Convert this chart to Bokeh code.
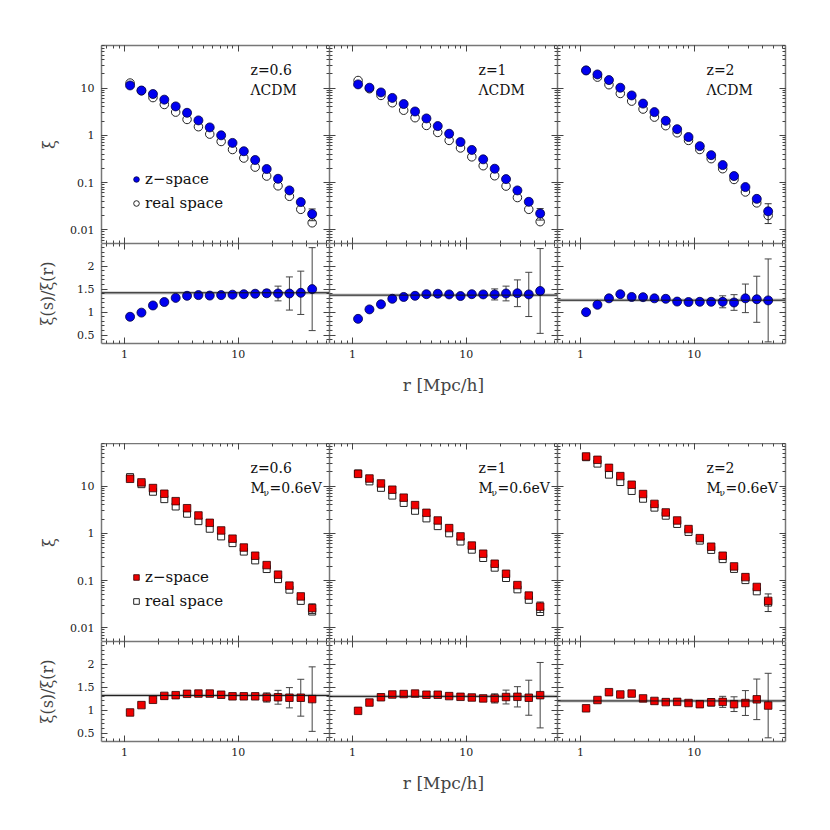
from bokeh.plotting import figure
from bokeh.layouts import column, row
from bokeh.models import (LogAxis, LinearAxis, LogTicker, SingleIntervalTicker,
                          CustomJSTickFormatter, Range1d, LogScale, LinearScale,
                          ColumnDataSource, Whisker, TeeHead, Span, BoxAnnotation,
                          Legend, LegendItem, Label)
from bokeh.embed import file_html
from bokeh.resources import INLINE

FONT = "DejaVu Serif"

# separation bins r [Mpc/h]
r = [1.12, 1.41, 1.78, 2.24, 2.82, 3.55, 4.47, 5.62, 7.08, 8.91,
     11.2, 14.1, 17.8, 22.4, 28.2, 35.5, 44.7]

redshift_labels = ["z=0.6", "z=1", "z=2"]

# ---------------- LCDM ----------------
lcdm_z06_s = [11.4, 8.9, 7.5, 5.7, 4.1, 3.0, 2.07, 1.47, 1.0, 0.69, 0.46, 0.30, 0.193, 0.120, 0.068, 0.0385, 0.0215]
lcdm_z06_r = [12.8, 8.8, 6.3, 4.5, 3.1, 2.17, 1.52, 1.06, 0.74, 0.50, 0.33, 0.212, 0.137, 0.085, 0.051, 0.027, 0.014]
lcdm_z06_s_err = [0, 0, 0, 0, 0, 0, 0, 0, 0, 0, 0, 0, 0, 0, 0.003, 0.004, 0.006]
lcdm_z06_ratio = [0.90, 0.99, 1.145, 1.22, 1.31, 1.355, 1.37, 1.36, 1.37, 1.38, 1.39, 1.40, 1.41, 1.405, 1.405, 1.42, 1.50]
lcdm_z06_ratio_err = [0.01, 0.01, 0.01, 0.01, 0.01, 0.01, 0.01, 0.01, 0.01, 0.02, 0.02, 0.03, 0.07, 0.16, 0.36, 0.47, 0.90]
lcdm_z06_fit = 1.42

lcdm_z1_s = [12.0, 10.2, 8.1, 6.2, 4.6, 3.2, 2.28, 1.57, 1.08, 0.72, 0.49, 0.31, 0.196, 0.118, 0.068, 0.039, 0.022]
lcdm_z1_r = [14.5, 9.7, 7.0, 4.9, 3.4, 2.36, 1.62, 1.15, 0.78, 0.54, 0.35, 0.227, 0.139, 0.084, 0.048, 0.027, 0.0148]
lcdm_z1_s_err = [0, 0, 0, 0, 0, 0, 0, 0, 0, 0, 0, 0, 0, 0, 0.003, 0.004, 0.006]
lcdm_z1_ratio = [0.855, 1.06, 1.17, 1.29, 1.33, 1.355, 1.39, 1.40, 1.385, 1.35, 1.39, 1.385, 1.385, 1.405, 1.41, 1.385, 1.46]
lcdm_z1_ratio_err = [0.01, 0.01, 0.01, 0.01, 0.01, 0.01, 0.01, 0.01, 0.01, 0.02, 0.02, 0.04, 0.12, 0.16, 0.29, 0.48, 0.92]
lcdm_z1_fit = 1.37

lcdm_z2_s = [23.7, 19.5, 14.8, 10.2, 7.0, 4.7, 3.1, 2.03, 1.35, 0.92, 0.59, 0.38, 0.234, 0.137, 0.080, 0.045, 0.0245]
lcdm_z2_r = [23.7, 17.1, 11.8, 7.7, 5.3, 3.6, 2.43, 1.60, 1.13, 0.78, 0.50, 0.32, 0.196, 0.116, 0.063, 0.037, 0.020]
lcdm_z2_s_err = [0, 0, 0, 0, 0, 0, 0, 0, 0, 0, 0, 0, 0, 0, 0.004, 0.006, 0.011]
lcdm_z2_ratio = [1.0, 1.16, 1.30, 1.39, 1.33, 1.325, 1.30, 1.29, 1.23, 1.22, 1.225, 1.225, 1.225, 1.21, 1.30, 1.28, 1.255]
lcdm_z2_ratio_err = [0.01, 0.01, 0.01, 0.01, 0.01, 0.01, 0.01, 0.01, 0.01, 0.02, 0.02, 0.04, 0.13, 0.17, 0.31, 0.50, 0.90]
lcdm_z2_fit = 1.26

# ---------------- M_nu = 0.6 eV ----------------
mnu_z06_s = [14.3, 12.0, 9.1, 6.9, 4.8, 3.4, 2.39, 1.67, 1.15, 0.77, 0.50, 0.335, 0.212, 0.133, 0.078, 0.046, 0.026]
mnu_z06_r = [15.5, 11.0, 7.6, 5.3, 3.7, 2.6, 1.81, 1.25, 0.86, 0.62, 0.41, 0.267, 0.175, 0.107, 0.064, 0.037, 0.022]
mnu_z06_s_err = [0, 0, 0, 0, 0, 0, 0, 0, 0, 0, 0, 0, 0, 0, 0.004, 0.004, 0.006]
mnu_z06_ratio = [0.95, 1.11, 1.225, 1.31, 1.325, 1.355, 1.36, 1.36, 1.335, 1.30, 1.30, 1.30, 1.275, 1.28, 1.27, 1.27, 1.24]
mnu_z06_ratio_err = [0.03, 0.03, 0.03, 0.03, 0.03, 0.03, 0.03, 0.03, 0.03, 0.03, 0.03, 0.05, 0.10, 0.15, 0.22, 0.40, 0.70]
mnu_z06_fit = 1.32

mnu_z1_s = [18.2, 14.5, 11.4, 8.4, 5.7, 3.96, 2.72, 1.87, 1.29, 0.86, 0.55, 0.37, 0.227, 0.139, 0.080, 0.048, 0.028]
mnu_z1_r = [18.5, 12.6, 9.2, 6.3, 4.4, 3.0, 2.07, 1.42, 1.0, 0.67, 0.45, 0.30, 0.187, 0.113, 0.065, 0.039, 0.0215]
mnu_z1_s_err = [0, 0, 0, 0, 0, 0, 0, 0, 0, 0, 0, 0, 0, 0, 0.004, 0.005, 0.007]
mnu_z1_ratio = [0.985, 1.165, 1.28, 1.34, 1.35, 1.36, 1.335, 1.335, 1.305, 1.29, 1.275, 1.255, 1.255, 1.285, 1.29, 1.27, 1.325]
mnu_z1_ratio_err = [0.03, 0.03, 0.03, 0.03, 0.03, 0.03, 0.03, 0.03, 0.03, 0.03, 0.03, 0.05, 0.10, 0.15, 0.22, 0.38, 0.71]
mnu_z1_fit = 1.30

mnu_z2_s = [42.5, 36.1, 24.4, 16.3, 10.7, 6.8, 4.2, 2.77, 1.87, 1.23, 0.79, 0.52, 0.335, 0.199, 0.118, 0.073, 0.037]
mnu_z2_r = [41.0, 30.0, 17.5, 12.2, 7.9, 5.4, 3.5, 2.36, 1.58, 1.07, 0.70, 0.445, 0.284, 0.176, 0.102, 0.059, 0.034]
mnu_z2_s_err = [0, 0, 0, 0, 0, 0, 0, 0, 0, 0, 0, 0, 0, 0, 0.006, 0.008, 0.015]
mnu_z2_ratio = [1.04, 1.22, 1.39, 1.34, 1.36, 1.255, 1.20, 1.175, 1.18, 1.155, 1.13, 1.17, 1.18, 1.13, 1.155, 1.235, 1.10]
mnu_z2_ratio_err = [0.04, 0.04, 0.04, 0.04, 0.04, 0.04, 0.04, 0.04, 0.04, 0.04, 0.04, 0.08, 0.12, 0.16, 0.27, 0.44, 0.70]
mnu_z2_fit = 1.20

fit_band = 0.035

groups = [
    dict(model="ΛCDM", marker="circle", fill="#0000f0", edge="#000040", osize=8.5, fsize=9,
         panels=[(lcdm_z06_s, lcdm_z06_r, lcdm_z06_s_err, lcdm_z06_ratio, lcdm_z06_ratio_err, lcdm_z06_fit),
                 (lcdm_z1_s, lcdm_z1_r, lcdm_z1_s_err, lcdm_z1_ratio, lcdm_z1_ratio_err, lcdm_z1_fit),
                 (lcdm_z2_s, lcdm_z2_r, lcdm_z2_s_err, lcdm_z2_ratio, lcdm_z2_ratio_err, lcdm_z2_fit)]),
    dict(model="Mnu", marker="square", fill="#f00000", edge="#300000", osize=7, fsize=7.5,
         panels=[(mnu_z06_s, mnu_z06_r, mnu_z06_s_err, mnu_z06_ratio, mnu_z06_ratio_err, mnu_z06_fit),
                 (mnu_z1_s, mnu_z1_r, mnu_z1_s_err, mnu_z1_ratio, mnu_z1_ratio_err, mnu_z1_fit),
                 (mnu_z2_s, mnu_z2_r, mnu_z2_s_err, mnu_z2_ratio, mnu_z2_ratio_err, mnu_z2_fit)]),
]

X_RANGE = (0.628, 63.5)
XI_RANGE = (0.0051, 80)
RATIO_RANGE = (0.32, 2.49)

FRAME_W = 228
XI_H = 198
RATIO_H = 100
LEFT_B = 101
RIGHT_B = 10
TOP_B = 45

AXIS_COLOR = "#777777"
TICK_COLOR = "#444444"

fmt_js = "return String(Number(tick.toPrecision(4)));"


def style_axis(ax, show_labels, standoff=7):
    ax.major_tick_in = 6
    ax.major_tick_out = 0
    ax.minor_tick_in = 3
    ax.minor_tick_out = 0
    ax.axis_line_color = AXIS_COLOR
    ax.axis_line_width = 1.5
    ax.major_tick_line_color = TICK_COLOR
    ax.minor_tick_line_color = TICK_COLOR
    ax.major_tick_line_width = 1
    ax.minor_tick_line_width = 1
    if show_labels:
        ax.formatter = CustomJSTickFormatter(code=fmt_js)
        ax.major_label_text_font = FONT
        ax.major_label_text_font_size = "11px"
        ax.major_label_text_color = "#222222"
        ax.major_label_standoff = standoff
    else:
        ax.formatter = CustomJSTickFormatter(code="return '';")
        ax.major_label_text_font_size = "0px"
        ax.major_label_standoff = 0


def make_panel(kind, col, gi):
    upper = kind == "xi"
    fh = XI_H if upper else RATIO_H
    left = LEFT_B if col == 0 else 0
    right = RIGHT_B if col == 2 else 0
    top = TOP_B if (gi == 0 and upper) else 0
    if upper:
        bottom = 0
    else:
        bottom = 100 if gi == 0 else 70
    p = figure(width=FRAME_W + left + right, height=fh + top + bottom,
               x_axis_type=None, y_axis_type=None,
               x_range=Range1d(*X_RANGE),
               y_range=Range1d(*(XI_RANGE if upper else RATIO_RANGE)),
               output_backend="svg", toolbar_location=None,
               min_border_left=left, min_border_right=right,
               min_border_top=top, min_border_bottom=bottom)
    p.x_scale = LogScale()
    p.y_scale = LogScale() if upper else LinearScale()
    p.outline_line_color = None
    p.background_fill_color = "white"
    p.border_fill_color = "white"

    # x axes (below / above)
    for side in ("below", "above"):
        ax = LogAxis(ticker=LogTicker(num_minor_ticks=10))
        show = (side == "below" and not upper)
        style_axis(ax, show, standoff=6)
        if show and col == 1:
            ax.axis_label = "r [Mpc/h]"
            ax.axis_label_text_font = FONT
            ax.axis_label_text_font_size = "17px"
            ax.axis_label_text_font_style = "normal"
            ax.axis_label_standoff = 14
        p.add_layout(ax, side)
    # y axes (left / right)
    for side in ("left", "right"):
        if upper:
            ax = LogAxis(ticker=LogTicker(num_minor_ticks=10))
        else:
            ax = LinearAxis(ticker=SingleIntervalTicker(interval=0.5, num_minor_ticks=5))
        show = (side == "left" and col == 0)
        style_axis(ax, show, standoff=7)
        if show:
            ax.axis_label = "ξ" if upper else "ξ(s)/ξ(r)"
            ax.axis_label_text_font = FONT
            ax.axis_label_text_font_size = "16px"
            ax.axis_label_text_font_style = "normal"
            ax.axis_label_standoff = 8 if upper else 17
        p.add_layout(ax, side)
    return p


rows = []
for gi, g in enumerate(groups):
    up_row, lo_row = [], []
    for col, (xs, xr, xs_err, ratio, ratio_err, fit) in enumerate(g["panels"]):
        # ---- correlation function panel ----
        p = make_panel("xi", col, gi)
        src = ColumnDataSource(dict(r=r, s=xs, rr=xr))
        ren_r = p.scatter("r", "rr", source=src, marker=g["marker"], size=g["osize"],
                          fill_color=None, line_color="#222222", line_width=1)
        er = [(ri, v, e) for ri, v, e in zip(r, xs, xs_err) if e > 0]
        esrc = ColumnDataSource(dict(r=[a for a, _, _ in er],
                                     up=[v + e for _, v, e in er],
                                     lo=[v - e for _, v, e in er]))
        p.add_layout(Whisker(base="r", upper="up", lower="lo", source=esrc, dimension="height",
                             line_color="#333333", line_width=1, level="underlay",
                             upper_head=TeeHead(size=7, line_color="#333333"),
                             lower_head=TeeHead(size=7, line_color="#333333")))
        ren_s = p.scatter("r", "s", source=src, marker=g["marker"], size=g["fsize"],
                          fill_color=g["fill"], line_color=g["edge"], line_width=0.8)
        # labels
        p.add_layout(Label(x=149, y=174, x_units="screen", y_units="screen",
                           text=redshift_labels[col], text_font=FONT, text_font_size="14px",
                           text_baseline="middle", text_color="#111111"))
        if g["model"] == "ΛCDM":
            p.add_layout(Label(x=149, y=154, x_units="screen", y_units="screen",
                               text="ΛCDM", text_font=FONT, text_font_size="14px",
                               text_baseline="middle", text_color="#111111"))
        else:
            p.add_layout(Label(x=149, y=154, x_units="screen", y_units="screen",
                               text="M", text_font=FONT, text_font_size="14px",
                               text_baseline="middle", text_color="#111111"))
            p.add_layout(Label(x=162, y=149, x_units="screen", y_units="screen",
                               text="ν", text_font=FONT, text_font_size="9px",
                               text_baseline="middle", text_color="#111111"))
            p.add_layout(Label(x=168, y=154, x_units="screen", y_units="screen",
                               text="=0.6eV", text_font=FONT, text_font_size="14px",
                               text_baseline="middle", text_color="#111111"))
        if col == 0:
            leg = Legend(items=[LegendItem(label="z−space", renderers=[ren_s]),
                                LegendItem(label="real space", renderers=[ren_r])],
                         location=(28, 30), orientation="vertical", padding=0, margin=0,
                         spacing=4, glyph_width=14, glyph_height=20, label_height=20,
                         label_standoff=2, label_text_font=FONT, label_text_font_size="15px",
                         label_text_color="#111111",
                         border_line_color=None, background_fill_alpha=0)
            p.add_layout(leg)
        up_row.append(p)

        # ---- ratio panel ----
        q = make_panel("ratio", col, gi)
        q.add_layout(BoxAnnotation(bottom=fit - fit_band, top=fit + fit_band,
                                   fill_color="#bbbbbb", fill_alpha=0.8, line_color=None,
                                   level="underlay"))
        q.add_layout(Span(location=fit, dimension="width", line_color="#111111", line_width=1))
        rsrc = ColumnDataSource(dict(r=r, v=ratio,
                                     up=[v + e for v, e in zip(ratio, ratio_err)],
                                     lo=[v - e for v, e in zip(ratio, ratio_err)]))
        q.add_layout(Whisker(base="r", upper="up", lower="lo", source=rsrc, dimension="height",
                             line_color="#444444", line_width=1, level="underlay",
                             upper_head=TeeHead(size=7, line_color="#444444"),
                             lower_head=TeeHead(size=7, line_color="#444444")))
        q.scatter("r", "v", source=rsrc, marker=g["marker"], size=g["fsize"],
                  fill_color=g["fill"], line_color=g["edge"], line_width=0.8)
        lo_row.append(q)
    rows.append(row(*up_row, spacing=0))
    rows.append(row(*lo_row, spacing=0))

layout = column(*rows, spacing=0)

open("out.html", "w").write(file_html(layout, INLINE))
